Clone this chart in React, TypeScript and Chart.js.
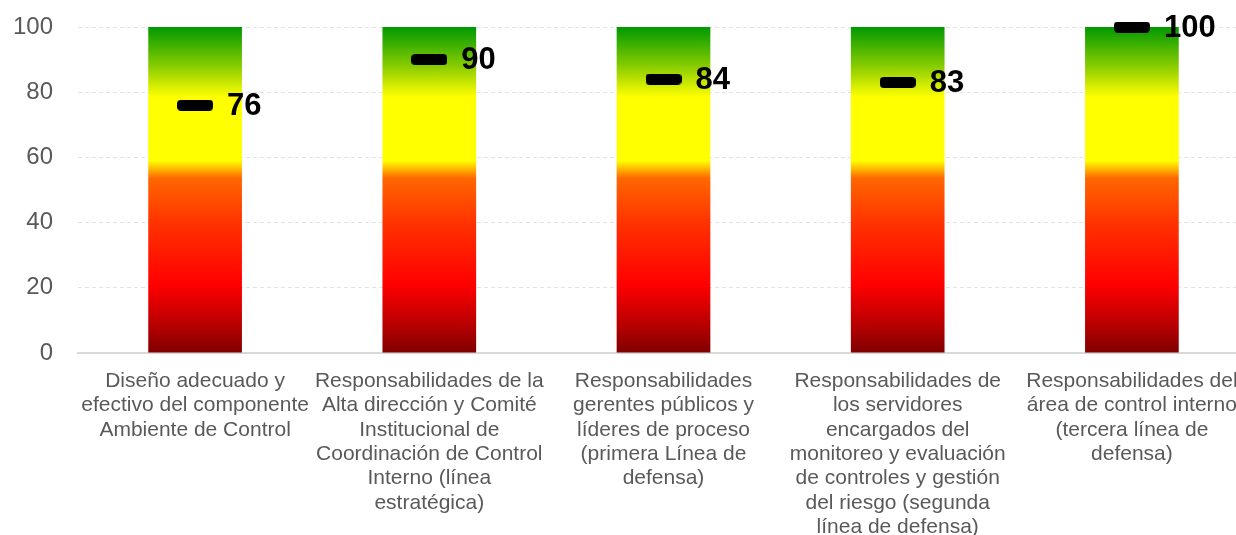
import React, { useEffect, useRef } from "react";
import { Chart, registerables } from "chart.js";

Chart.register(...registerables);

const categories: string[][] = [
  ["Diseño adecuado y", "efectivo del componente", "Ambiente de Control"],
  ["Responsabilidades de la", "Alta dirección y Comité", "Institucional de", "Coordinación de Control", "Interno (línea", "estratégica)"],
  ["Responsabilidades", "gerentes públicos y", "líderes de proceso", "(primera Línea de", "defensa)"],
  ["Responsabilidades de", "los servidores", "encargados del", "monitoreo y evaluación", "de controles y gestión", "del riesgo (segunda", "línea de defensa)"],
  ["Responsabilidades del", "área de control interno", "(tercera línea de", "defensa)"],
];
const scores: number[] = [76, 90, 84, 83, 100];
const scaleMax: number[] = [100, 100, 100, 100, 100];
const yMin = 0;
const yMax = 100;
const yStep = 20;

const FONT = "'Liberation Sans', Arial, sans-serif";

function makeMarker(): HTMLCanvasElement {
  const c = document.createElement("canvas");
  c.width = 36;
  c.height = 11;
  const g = c.getContext("2d")!;
  g.fillStyle = "#000000";
  const w = 36, h = 11, r = 4;
  g.beginPath();
  g.moveTo(r, 0);
  g.lineTo(w - r, 0);
  g.quadraticCurveTo(w, 0, w, r);
  g.lineTo(w, h - r);
  g.quadraticCurveTo(w, h, w - r, h);
  g.lineTo(r, h);
  g.quadraticCurveTo(0, h, 0, h - r);
  g.lineTo(0, r);
  g.quadraticCurveTo(0, 0, r, 0);
  g.closePath();
  g.fill();
  return c;
}

const valueLabels = {
  id: "valueLabels",
  afterDatasetsDraw(chart: any) {
    const meta = chart.getDatasetMeta(1);
    const ctx = chart.ctx;
    ctx.save();
    ctx.fillStyle = "#000000";
    ctx.font = `bold 31px ${FONT}`;
    ctx.textAlign = "left";
    ctx.textBaseline = "middle";
    meta.data.forEach((pt: any, i: number) => {
      ctx.fillText(String(scores[i]), pt.x + 32, pt.y + 1);
    });
    ctx.restore();
  },
};

export default function App() {
  const ref = useRef<HTMLCanvasElement>(null);

  useEffect(() => {
    const marker = makeMarker();
    const chart = new Chart(ref.current!, {
      type: "bar",
      data: {
        labels: categories,
        datasets: [
          {
            type: "bar",
            data: scaleMax,
            barPercentage: 1,
            categoryPercentage: 0.4,
            order: 2,
            backgroundColor: (c: any) => {
              const area = c.chart.chartArea;
              if (!area) return "#ff0000";
              const g = c.chart.ctx.createLinearGradient(0, area.bottom, 0, area.top);
              g.addColorStop(0, "#800000");
              g.addColorStop(0.1, "#c00000");
              g.addColorStop(0.21, "#ff0000");
              g.addColorStop(0.4, "#ff3300");
              g.addColorStop(0.535, "#ff6600");
              g.addColorStop(0.56, "#ffaa00");
              g.addColorStop(0.59, "#ffff00");
              g.addColorStop(0.785, "#ffff00");
              g.addColorStop(0.88, "#88cc00");
              g.addColorStop(1, "#009900");
              return g;
            },
          } as any,
          {
            type: "line",
            data: scores,
            showLine: false,
            pointStyle: marker,
            pointRadius: 6,
            order: 1,
            clip: false,
          } as any,
        ],
      },
      options: {
        animation: false,
        responsive: true,
        maintainAspectRatio: false,
        layout: { padding: { top: 27, right: 2, left: 0, bottom: 0 } },
        plugins: {
          legend: { display: false },
          tooltip: { enabled: false },
        },
        scales: {
          x: {
            grid: { display: false },
            border: { display: true, color: "#d9d9d9", width: 2 },
            ticks: {
              color: "#595959",
              font: { family: FONT, size: 21, lineHeight: 1.16 },
              padding: 8,
              maxRotation: 0,
              autoSkip: false,
            },
            afterFit: (s: any) => {
              s.height = 182;
            },
          },
          y: {
            min: yMin,
            max: yMax,
            ticks: {
              stepSize: yStep,
              color: "#595959",
              font: { family: FONT, size: 24 },
              padding: 25,
            },
            grid: { color: "#e3e3e3", drawTicks: false, lineWidth: 1 },
            border: { display: false, dash: [4, 3] },
            afterFit: (s: any) => {
              s.width = 78;
              s.paddingTop = 0;
              s.paddingBottom = 0;
            },
          },
        },
      },
      plugins: [valueLabels],
    } as any);
    return () => chart.destroy();
  }, []);

  return (
    <div style={{ position: "fixed", left: 0, top: 0, width: 1256, height: 535, background: "#ffffff" }}>
      <canvas ref={ref} />
    </div>
  );
}
